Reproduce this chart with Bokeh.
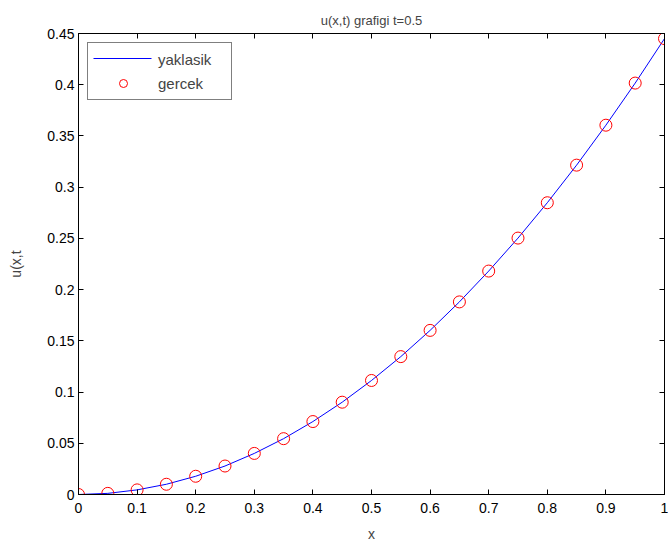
from bokeh.plotting import figure
from bokeh.models import LinearAxis, Range1d, FixedTicker, Legend, LegendItem, ColumnDataSource
from bokeh.embed import file_html
from bokeh.resources import INLINE

x_vals = [0.0, 0.05, 0.1, 0.15, 0.2, 0.25, 0.3, 0.35, 0.4, 0.45, 0.5,
          0.55, 0.6, 0.65, 0.7, 0.75, 0.8, 0.85, 0.9, 0.95, 1.0]
yaklasik = [0.0, 0.0011, 0.0045, 0.0100, 0.0178, 0.0278, 0.0401, 0.0545, 0.0712, 0.0901, 0.1113,
            0.1346, 0.1602, 0.1880, 0.2181, 0.2503, 0.2848, 0.3215, 0.3605, 0.4016, 0.4450]
gercek = [0.0, 0.0011, 0.0045, 0.0100, 0.0178, 0.0278, 0.0401, 0.0545, 0.0712, 0.0901, 0.1113,
          0.1346, 0.1602, 0.1880, 0.2181, 0.2503, 0.2848, 0.3215, 0.3605, 0.4016, 0.4450]
x_ticks = [0, 0.1, 0.2, 0.3, 0.4, 0.5, 0.6, 0.7, 0.8, 0.9, 1]
y_ticks = [0, 0.05, 0.1, 0.15, 0.2, 0.25, 0.3, 0.35, 0.4, 0.45]
x_tick_labels = {0: "0", 0.1: "0.1", 0.2: "0.2", 0.3: "0.3", 0.4: "0.4", 0.5: "0.5",
                 0.6: "0.6", 0.7: "0.7", 0.8: "0.8", 0.9: "0.9", 1: "1"}
y_tick_labels = {0: "0", 0.05: "0.05", 0.1: "0.1", 0.15: "0.15", 0.2: "0.2", 0.25: "0.25",
                 0.3: "0.3", 0.35: "0.35", 0.4: "0.4", 0.45: "0.45"}
title_text = "u(x,t) grafigi t=0.5"

FONT = "Liberation Sans"
W, H = 668, 545
B_LEFT, B_RIGHT, B_TOP, B_BOTTOM = 78, 4, 33, 51
X0, X1, Y0, Y1 = 0, 1, 0, 0.45

p = figure(width=W, height=H, output_backend="svg", toolbar_location=None,
           x_range=Range1d(X0, X1), y_range=Range1d(Y0, Y1),
           x_axis_location=None, y_axis_location=None,
           min_border_left=B_LEFT, min_border_right=B_RIGHT,
           min_border_top=B_TOP, min_border_bottom=B_BOTTOM)
p.grid.visible = False
p.background_fill_color = "white"
p.border_fill_color = "white"
p.outline_line_color = "black"
p.outline_line_width = 1

p.title.text = title_text
p.title.align = "center"
p.title.text_font = FONT
p.title.text_font_size = "13px"
p.title.text_font_style = "normal"
p.title.offset = 0
p.title.standoff = 12


def style_axis(ax, labels):
    ax.axis_line_color = "black"
    ax.axis_line_width = 1
    ax.major_tick_in = 5
    ax.major_tick_out = 0
    ax.minor_tick_line_color = None
    ax.major_tick_line_color = "black"
    ax.major_label_text_font = FONT
    ax.major_label_text_font_size = "14px"
    ax.major_label_text_color = "black"
    ax.axis_label_text_font = FONT
    ax.axis_label_text_font_size = "14px"
    ax.axis_label_text_font_style = "normal"
    if labels is None:
        ax.major_label_text_color = None
        ax.major_label_text_alpha = 0
    else:
        ax.major_label_overrides = labels


xb = LinearAxis(ticker=FixedTicker(ticks=x_ticks), axis_label="x")
style_axis(xb, x_tick_labels)
xb.major_label_standoff = 8
xb.axis_label_standoff = 10
p.add_layout(xb, "below")

yl = LinearAxis(ticker=FixedTicker(ticks=y_ticks), axis_label="u(x,t")
style_axis(yl, y_tick_labels)
yl.major_label_standoff = 4
yl.axis_label_standoff = 20
p.add_layout(yl, "left")

xt = LinearAxis(ticker=FixedTicker(ticks=x_ticks))
style_axis(xt, None)
xt.major_label_standoff = 0
p.add_layout(xt, "above")

yr = LinearAxis(ticker=FixedTicker(ticks=y_ticks))
style_axis(yr, None)
yr.major_label_standoff = 0
p.add_layout(yr, "right")

src = ColumnDataSource(data=dict(x=x_vals, yak=yaklasik, ger=gercek))
r_line = p.line("x", "yak", source=src, line_color="#0000ff", line_width=1)
r_circ = p.scatter("x", "ger", source=src, marker="circle", size=12, fill_color=None,
                   line_color="#ff0000", line_width=1)

# legend geometry
L_MARGIN, L_PAD, L_SPACING, L_GW, L_GH = 9, 6, 4, 58, 20

# transparent stand-in so the legend's own (mis-coloured) line sample is hidden
r_key = p.line("x", "yak", source=src, line_color="#0000ff", line_alpha=0, line_width=1)

# blue key line of the legend (shows through the legend's transparent background)
frame_w = W - B_LEFT - B_RIGHT
frame_h = H - B_TOP - B_BOTTOM
px_x = (X1 - X0) / frame_w
px_y = (Y1 - Y0) / frame_h
kx0 = X0 + (L_MARGIN + L_PAD) * px_x
kx1 = X0 + (L_MARGIN + L_PAD + L_GW) * px_x
ky = Y1 - (L_MARGIN + L_PAD + L_GH / 2) * px_y
p.segment(x0=[kx0], y0=[ky], x1=[kx1], y1=[ky], line_color="#0000ff", line_width=1)

legend = Legend(items=[LegendItem(label="yaklasik", renderers=[r_key]),
                       LegendItem(label="gercek", renderers=[r_circ])],
                location="top_left")
legend.margin = L_MARGIN
legend.padding = L_PAD
legend.spacing = L_SPACING
legend.glyph_width = L_GW
legend.glyph_height = L_GH
legend.label_width = 67
legend.label_height = 20
legend.label_text_font = FONT
legend.label_text_font_size = "15px"
legend.label_standoff = 6
legend.border_line_color = "black"
legend.border_line_width = 1
legend.background_fill_alpha = 0
p.add_layout(legend, "center")

open("out.html", "w").write(file_html(p, INLINE))
